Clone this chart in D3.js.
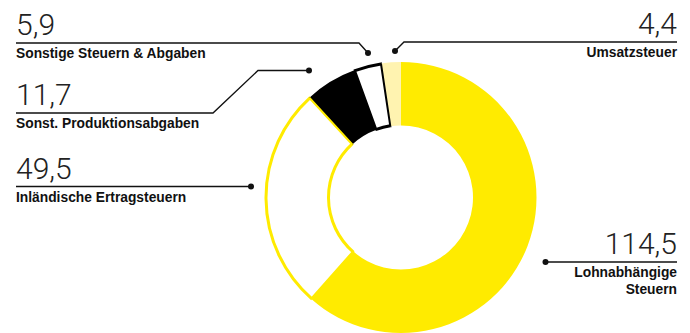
<!DOCTYPE html>
<html><head><meta charset="utf-8">
<script src="https://cdn.jsdelivr.net/npm/d3@7"></script>
<style>
html,body{margin:0;padding:0;background:#fff;}
svg{display:block;}
.num{font-family:Roboto,"Open Sans",sans-serif;font-weight:300;font-size:30px;fill:#222;}
.lab{font-family:"Liberation Sans",Arial,sans-serif;font-weight:bold;font-size:13.8px;fill:#111;}
</style></head>
<body>
<script>
// ---- data ----
const categories = ["Lohnabhängige Steuern","Inländische Ertragsteuern","Sonst. Produktionsabgaben","Sonstige Steuern & Abgaben","Umsatzsteuer"];
const values = [114.5, 49.5, 11.7, 5.9, 4.4];
const valueLabels = ["114,5","49,5","11,7","5,9","4,4"];
const labelLines = [["Lohnabhängige","Steuern"],["Inländische Ertragsteuern"],["Sonst. Produktionsabgaben"],["Sonstige Steuern & Abgaben"],["Umsatzsteuer"]];

// ---- styles ----
const fills   = ["#ffeb00","#ffffff","#000000","#ffffff","#fff3b0"];
const strokes = ["none","#ffeb00","none","#000000","none"];

// ---- layout (annotation anchors) ----
const W=690,H=333, cx=401, cy=197.5, R=135.5, r=72;
const layout = [
  {side:"right", dot:[545.5,262], lineY:262},
  {side:"left",  dot:[251,186.5], lineY:186.5},
  {side:"left",  dot:[309,70.5], lineY:113, bend:[[258,70.5],[213,113]]},
  {side:"left",  dot:[368,53], lineY:43, bend:[[359,43]]},
  {side:"right", dot:[395,51], lineY:42, bend:[[404,42]]}
];
const xLeft=16, xRight=677;

const svg=d3.select("body").append("svg").attr("width",W).attr("height",H);
const g=svg.append("g").attr("transform",`translate(${cx},${cy})`);
const pie=d3.pie().sort(null).value(d=>d)(values);
const arc=d3.arc().innerRadius(r).outerRadius(R);

g.selectAll("path.s").data(pie).join("path").attr("class","s")
  .attr("d",arc)
  .attr("fill",(d,i)=>fills[i])
  .attr("stroke",(d,i)=>strokes[i])
  .attr("stroke-width",2)
  .attr("stroke-linejoin","miter");
const inset=d3.arc().innerRadius(r+1).outerRadius(R-1);
g.selectAll("path.o").data(pie.filter((d,i)=>strokes[i]!=="none")).join("path").attr("class","o")
  .attr("d",inset).attr("fill","#fff")
  .attr("stroke",d=>strokes[d.index]).attr("stroke-width",2);

const ann=svg.append("g");
layout.forEach((L,i)=>{
  const pts=[L.dot].concat(L.bend||[]);
  const endX = L.side==="left"?xLeft:xRight;
  pts.push([endX,L.lineY]);
  ann.append("path").attr("d",d3.line()(pts)).attr("fill","none").attr("stroke","#111").attr("stroke-width",1.4);
  ann.append("circle").attr("cx",L.dot[0]).attr("cy",L.dot[1]).attr("r",3).attr("fill","#111");
  const anchor = L.side==="left"?"start":"end";
  ann.append("text").attr("class","num").attr("x",endX).attr("y",L.lineY-8).attr("text-anchor",anchor).text(valueLabels[i]);
  labelLines[i].forEach((t,j)=>{
    ann.append("text").attr("class","lab").attr("x",endX).attr("y",L.lineY+15+j*17).attr("text-anchor",anchor).text(t);
  });
});
</script>
</body></html>
